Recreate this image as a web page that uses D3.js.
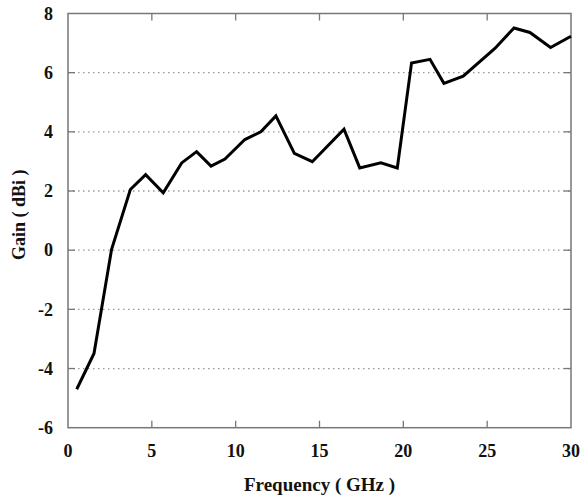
<!DOCTYPE html>
<html>
<head>
<meta charset="utf-8">
<script src="https://cdn.jsdelivr.net/npm/d3@7"></script>
<style>
  body { margin: 0; background: #fff; }
  text { font-family: "Liberation Serif", "Times New Roman", serif; font-weight: bold; fill: #111; }
</style>
</head>
<body>
<div id="chart"></div>
<script>
// data
var freq = [0.52, 1.55, 2.6, 3.72, 4.63, 5.68, 6.78, 7.67, 8.53, 9.36, 10.55, 11.5, 12.4, 13.5, 14.57,
            16.46, 17.4, 18.66, 19.64, 20.49, 21.59, 22.42, 23.57, 25.46, 26.6, 27.55, 28.78, 30];
var gain = [-4.7, -3.49, 0.03, 2.05, 2.55, 1.94, 2.95, 3.33, 2.84, 3.08, 3.74, 4.0, 4.54, 3.27, 2.99,
            4.09, 2.78, 2.95, 2.78, 6.33, 6.45, 5.64, 5.88, 6.82, 7.51, 7.36, 6.85, 7.23];
var xTicks = [0, 5, 10, 15, 20, 25, 30];
var yTicks = [-6, -4, -2, 0, 2, 4, 6, 8];

var width = 581, height = 500;
var margin = {top: 13.5, right: 10, bottom: 72.3, left: 68};

var svg = d3.select("#chart").append("svg")
    .attr("width", width)
    .attr("height", height);

var x = d3.scaleLinear().domain([0, 30]).range([margin.left, width - margin.right]);
var y = d3.scaleLinear().domain([-6, 8]).range([height - margin.bottom, margin.top]);

// dotted grid
svg.append("g")
  .selectAll("line")
  .data(yTicks.filter(d => d > -6 && d < 8))
  .join("line")
  .attr("x1", x(0)).attr("x2", x(30))
  .attr("y1", d => y(d)).attr("y2", d => y(d))
  .attr("stroke", "#999")
  .attr("stroke-width", 1.3)
  .attr("stroke-dasharray", "1.5,3.5");

// inner ticks
var tk = 7;
svg.append("g").selectAll("line")
  .data(xTicks.slice(1, -1))
  .join("line")
  .attr("x1", d => x(d)).attr("x2", d => x(d))
  .attr("y1", y(-6)).attr("y2", y(-6) - tk)
  .attr("stroke", "#777").attr("stroke-width", 1.3);
svg.append("g").selectAll("line")
  .data(xTicks.slice(1, -1))
  .join("line")
  .attr("x1", d => x(d)).attr("x2", d => x(d))
  .attr("y1", y(8)).attr("y2", y(8) + tk)
  .attr("stroke", "#777").attr("stroke-width", 1.3);
svg.append("g").selectAll("line")
  .data(yTicks.slice(1, -1))
  .join("line")
  .attr("x1", x(0)).attr("x2", x(0) + tk)
  .attr("y1", d => y(d)).attr("y2", d => y(d))
  .attr("stroke", "#777").attr("stroke-width", 1.3);
svg.append("g").selectAll("line")
  .data(yTicks.slice(1, -1))
  .join("line")
  .attr("x1", x(30)).attr("x2", x(30) - tk)
  .attr("y1", d => y(d)).attr("y2", d => y(d))
  .attr("stroke", "#777").attr("stroke-width", 1.3);

// frame
svg.append("rect")
  .attr("x", x(0)).attr("y", y(8))
  .attr("width", x(30) - x(0)).attr("height", y(-6) - y(8))
  .attr("fill", "none")
  .attr("stroke", "#777")
  .attr("stroke-width", 1.5);

// tick labels
svg.append("g").selectAll("text")
  .data(xTicks)
  .join("text")
  .attr("x", d => x(d))
  .attr("y", y(-6) + 29)
  .attr("text-anchor", "middle")
  .attr("font-size", 18)
  .text(d => d);

svg.append("g").selectAll("text")
  .data(yTicks)
  .join("text")
  .attr("x", x(0) - 15)
  .attr("y", d => y(d))
  .attr("dy", "0.35em")
  .attr("text-anchor", "end")
  .attr("font-size", 18)
  .text(d => d);

// axis titles
svg.append("text")
  .attr("x", (x(0) + x(30)) / 2)
  .attr("y", 491)
  .attr("text-anchor", "middle")
  .attr("font-size", 19)
  .text("Frequency ( GHz )");

svg.append("text")
  .attr("transform", "translate(25," + y(1.2) + ") rotate(-90)")
  .attr("text-anchor", "middle")
  .attr("font-size", 18)
  .text("Gain ( dBi )");

// the curve
var line = d3.line()
  .x((d, i) => x(freq[i]))
  .y(d => y(d));

svg.append("path")
  .datum(gain)
  .attr("d", line)
  .attr("fill", "none")
  .attr("stroke", "#000")
  .attr("stroke-width", 3)
  .attr("stroke-linejoin", "miter");
</script>
</body>
</html>
